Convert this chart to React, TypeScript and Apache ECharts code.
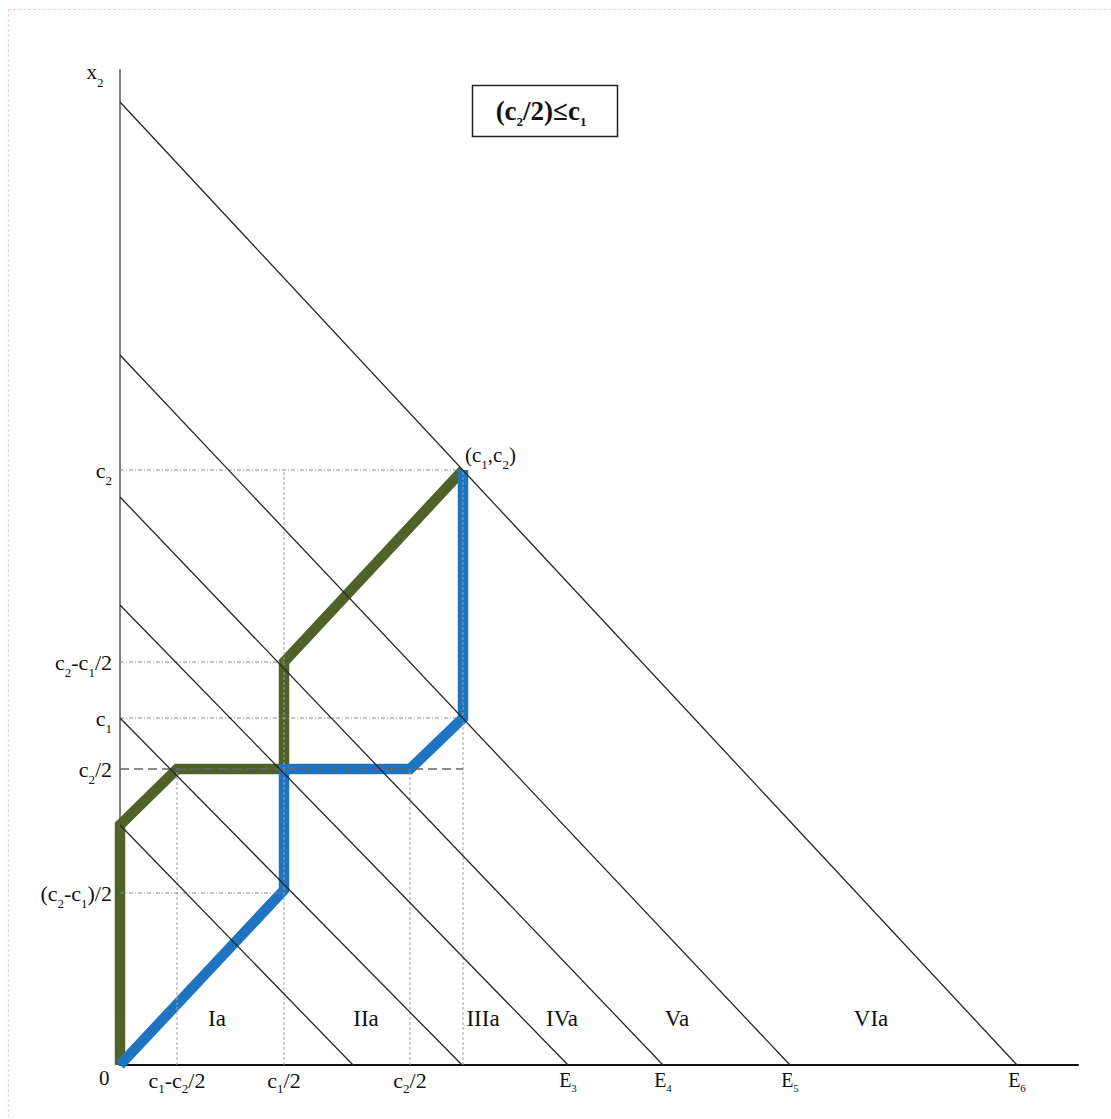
import React, { useEffect, useRef } from "react";
import * as echarts from "echarts";

// ---- Data (arbitrary units, origin at 0) ----
const X_MAX = 95.8;
const Y_MAX = 99.5;

const xTickValues = [5.7, 16.4, 29.0, 44.8, 54.3, 67.0, 89.7];
const xTickLabels = [
  "c{xs|1}-c{xs|2}/2",
  "c{xs|1}/2",
  "c{xs|2}/2",
  "{e|E}{es|3}",
  "{e|E}{es|4}",
  "{e|E}{es|5}",
  "{e|E}{es|6}",
];

const yTickValues = [17.2, 29.6, 34.7, 40.3, 59.5];
const yTickLabels = [
  "(c{ys|2}-c{ys|1})/2",
  "c{ys|2}/2",
  "c{ys|1}",
  "c{ys|2}-c{ys|1}/2",
  "c{ys|2}",
];

// iso lines: [y-intercept, x-intercept]
const isoLines = [
  [96.3, 89.7],
  [71.0, 67.0],
  [56.8, 54.3],
  [46.0, 44.8],
  [34.7, 34.2],
  [24.0, 23.3],
];

const greenPath = [
  [0, 0],
  [0, 24.0],
  [5.7, 29.6],
  [16.4, 29.6],
  [16.4, 40.3],
  [34.3, 59.5],
];

const bluePath = [
  [0, 0],
  [16.4, 17.5],
  [16.4, 29.6],
  [29.0, 29.6],
  [34.3, 34.7],
  [34.3, 59.5],
];

// horizontal guides: [y, xEnd]
const guideH = [
  [59.5, 34.3],
  [40.3, 16.4],
  [34.7, 34.3],
  [17.2, 16.4],
];
// vertical guides: [x, yEnd]
const guideV = [
  [5.7, 29.6],
  [16.4, 59.5],
  [29.0, 29.6],
  [34.3, 59.5],
];
// dashed c2/2 guide: [y, xEnd]
const halfC2Guide = [29.6, 34.3];

const regionNames = ["Ia", "IIa", "IIIa", "IVa", "Va", "VIa"];
const regionX = [9.7, 24.6, 36.3, 44.2, 55.7, 75.1];
const REGION_Y = 4.7;

const corner = [34.3, 59.5];

const SERIF = "'Liberation Serif', 'DejaVu Serif', serif";
const INK = "#111111";

const xRich = {
  xs: { fontSize: 13, fontFamily: SERIF, color: INK, padding: [16, 0, 0, 0] },
  e: { fontSize: 20, fontFamily: SERIF, color: INK },
  es: { fontSize: 11, fontFamily: SERIF, color: INK, padding: [16, 0, 0, 0] },
};
const yRich = {
  ys: { fontSize: 13, fontFamily: SERIF, color: INK, padding: [20, 0, 0, 0] },
};

const plainLabel = {
  fontFamily: SERIF,
  color: INK,
  textBorderWidth: 0,
  textBorderColor: "transparent",
  textShadowBlur: 0,
  opacity: 1,
};

export default function App() {
  const ref = useRef<HTMLDivElement>(null);

  useEffect(() => {
    if (!ref.current) return;
    const chart = echarts.init(ref.current, null, { renderer: "svg" });

    const lineSeries = (data: number[][], style: any, z: number) => ({
      type: "line",
      data,
      symbol: "none",
      silent: true,
      z,
      lineStyle: style,
    });

    const series: any[] = [];

    // thick paths
    series.push(
      lineSeries(greenPath, { color: "#4F6228", width: 10.5, join: "miter" }, 2)
    );
    series.push(
      lineSeries(bluePath, { color: "#1F74C2", width: 10.5, join: "miter" }, 3)
    );

    // guides
    guideH.forEach(([y, xe]) =>
      series.push(
        lineSeries(
          [
            [0, y],
            [xe, y],
          ],
          { color: "#8a8a8a", width: 1, type: [4, 2, 1, 2] },
          4
        )
      )
    );
    guideV.forEach(([x, ye]) =>
      series.push(
        lineSeries(
          [
            [x, 0],
            [x, ye],
          ],
          { color: "#a0a0a0", width: 1, type: [3, 2] },
          4
        )
      )
    );
    series.push(
      lineSeries(
        [
          [0, halfC2Guide[0]],
          [halfC2Guide[1], halfC2Guide[0]],
        ],
        { color: "#666", width: 1.6, type: [9, 5] },
        5
      )
    );

    // iso lines
    isoLines.forEach(([yi, xi]) =>
      series.push(
        lineSeries(
          [
            [0, yi],
            [xi, 0],
          ],
          { color: "#262626", width: 1.3 },
          6
        )
      )
    );

    // region labels
    series.push({
      type: "scatter",
      symbolSize: 0,
      silent: true,
      z: 7,
      itemStyle: { color: INK },
      data: regionX.map((x, i) => ({ value: [x, REGION_Y], name: regionNames[i] })),
      label: {
        show: true,
        position: "inside",
        formatter: "{b}",
        fontSize: 23,
        ...plainLabel,
      },
    });

    // corner and origin labels
    series.push({
      type: "scatter",
      symbolSize: 0,
      silent: true,
      z: 7,
      itemStyle: { color: INK },
      data: [
        {
          value: corner,
          label: {
            show: true,
            position: [2, -32],
            formatter: "(c{ys|1},c{ys|2})",
            fontSize: 21,
            rich: yRich,
            ...plainLabel,
          },
        },
        {
          value: [0, 0],
          label: {
            show: true,
            position: [-21, 2],
            formatter: "0",
            fontSize: 21,
            ...plainLabel,
          },
        },
      ],
    });

    chart.setOption({
      animation: false,
      backgroundColor: "#ffffff",
      grid: {
        left: 120,
        right: 33,
        top: 70,
        bottom: 54,
        outerBoundsMode: "none",
        containLabel: false,
      },
      xAxis: {
        type: "value",
        min: 0,
        max: X_MAX,
        splitLine: { show: false },
        axisTick: { show: false },
        axisLine: { show: true, onZero: false, lineStyle: { color: "#111", width: 2 } },
        axisLabel: {
          customValues: xTickValues,
          formatter: (v: number) => {
            const i = xTickValues.indexOf(v);
            return i >= 0 ? xTickLabels[i] : "";
          },
          margin: 1,
          fontFamily: SERIF,
          fontSize: 22,
          color: INK,
          rich: xRich,
        },
      },
      yAxis: {
        type: "value",
        min: 0,
        max: Y_MAX,
        splitLine: { show: false },
        axisTick: { show: false },
        axisLine: { show: true, onZero: false, lineStyle: { color: "#808080", width: 2 } },
        axisLabel: {
          customValues: yTickValues,
          formatter: (v: number) => {
            const i = yTickValues.indexOf(v);
            return i >= 0 ? yTickLabels[i] : "";
          },
          margin: 8,
          fontFamily: SERIF,
          fontSize: 22,
          color: INK,
          rich: yRich,
        },
      },
      graphic: [
        // faint page border (top & left)
        {
          type: "line",
          silent: true,
          shape: { x1: 8.5, y1: 9.5, x2: 1111, y2: 9.5 },
          style: { stroke: "#f3b9b9", lineWidth: 1, lineDash: [2, 3] },
        },
        {
          type: "line",
          silent: true,
          shape: { x1: 8.5, y1: 9.5, x2: 8.5, y2: 1119 },
          style: { stroke: "#f3b9b9", lineWidth: 1, lineDash: [2, 3] },
        },
        // x2 axis name
        {
          type: "text",
          silent: true,
          x: 95,
          y: 72,
          style: {
            text: "x{ys|2}",
            font: `21px ${SERIF}`,
            fill: INK,
            align: "center",
            verticalAlign: "middle",
            rich: yRich,
          },
        },
        // condition box
        {
          type: "rect",
          silent: true,
          shape: { x: 472.5, y: 85.5, width: 145, height: 51 },
          style: { fill: "#fff", stroke: "#222", lineWidth: 1.5 },
        },
        {
          type: "text",
          silent: true,
          x: 541,
          y: 111,
          style: {
            text: "(c{bs|2}/2)≤c{bs|1}",
            font: `bold 27px ${SERIF}`,
            fill: INK,
            align: "center",
            verticalAlign: "middle",
            rich: {
              bs: {
                fontSize: 13,
                fontWeight: "bold",
                fontFamily: SERIF,
                fill: INK,
                padding: [20, 0, 0, 0],
              },
            },
          },
        },
      ],
      series,
    });

    return () => chart.dispose();
  }, []);

  return (
    <div
      ref={ref}
      style={{ position: "absolute", left: 0, top: 0, width: 1111, height: 1119 }}
    />
  );
}
